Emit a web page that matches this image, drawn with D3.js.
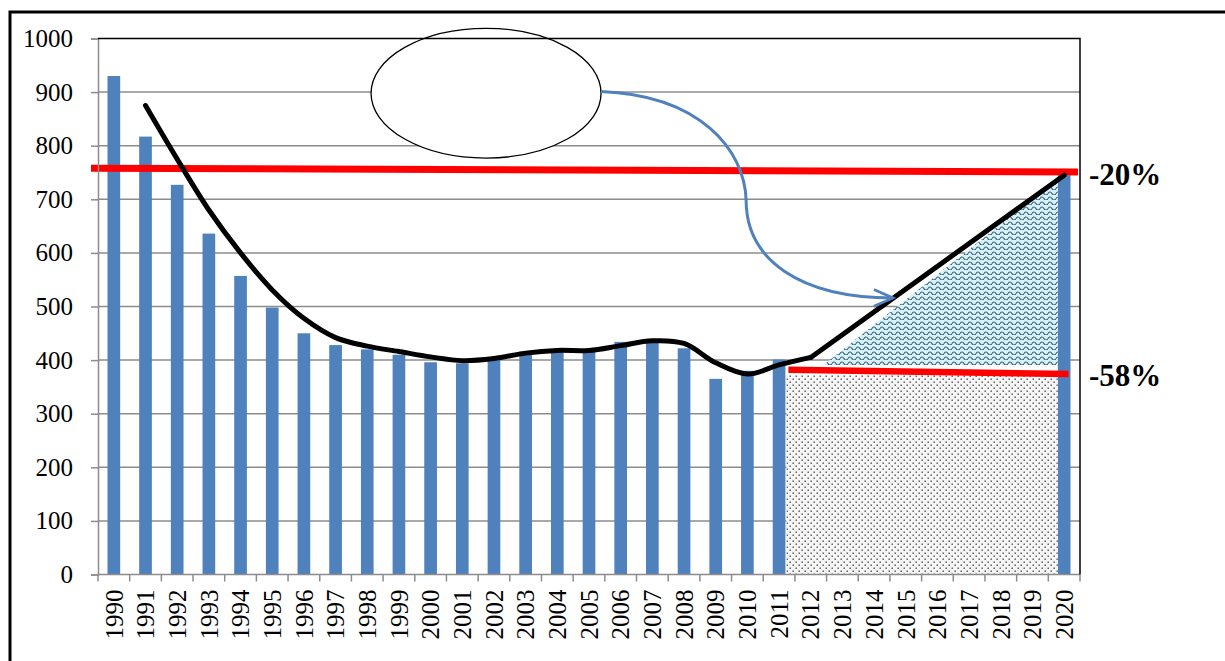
<!DOCTYPE html>
<html>
<head>
<meta charset="utf-8">
<script src="https://cdn.jsdelivr.net/npm/d3@7"></script>
<style>
  body { margin: 0; background: #fff; }
  text { font-family: "Liberation Serif", "Times New Roman", serif; }
</style>
</head>
<body>
<div id="chart-area"></div>
<script>
// categories
var years = ["1990", "1991", "1992", "1993", "1994", "1995", "1996", "1997", "1998", "1999",
  "2000", "2001", "2002", "2003", "2004", "2005", "2006", "2007", "2008", "2009",
  "2010", "2011", "2012", "2013", "2014", "2015", "2016", "2017", "2018", "2019", "2020"]

// blue columns
var barValues = [930, 817, 727, 636, 557, 498, 450, 428, 420, 410,
  396, 394, 400, 416, 418, 415, 434, 432, 422, 365,
  380, 401, null, null, null, null, null, null, null, null, 745]

// black smoothed trend, then straight path to the 2020 target
var lineValues = [null, 875, 775, 680, 600, 531, 478, 442, 426, 416,
  406, 399, 403, 413, 418, 418, 427, 436, 431, 395,
  374, 391, 405, null, null, null, null, null, null, null, 745]

var yTicks = [0, 100, 200, 300, 400, 500, 600, 700, 800, 900, 1000]

// red target levels (value at left end, value at right end)
var targetHigh = [758, 751]
var targetLow = [382, 374]
var targetLabels = ["-20%", "-58%"]

// shaded areas, in value units
var dottedTop = 372
var waveBase = 391
var waveTop = 738

// annotation (ellipse and arrow) in category-index / value units
var ellipseBox = [8.12, 15.38, 1019, 777]   // left idx, right idx, top value, bottom value
var arrowPoints = [[15.38, 901], [18.5, 894], [19.92, 792], [19.96, 698],
  [19.96, 587], [21.66, 516], [24.6, 516]]

var svg = d3.select("#chart-area").append("svg")
  .attr("width", 1225)
  .attr("height", 661)
  .style("display", "block")
  .style("background", "#fff")

var x = d3.scaleBand()
  .domain(years)
  .range([98, 1080])
  .paddingInner(0.6)
  .paddingOuter(0.3)

var y = d3.scaleLinear()
  .domain([0, 1000])
  .range([574.5, 38.5])

var step = x.step()
var bw = x.bandwidth()
function cx(i) { return x(years[i]) + bw / 2 }
var xi = d3.scaleLinear().domain([0, years.length - 1]).range([cx(0), cx(years.length - 1)])

// patterns
var defs = svg.append("defs")
var dots = defs.append("pattern")
  .attr("id", "dots").attr("patternUnits", "userSpaceOnUse")
  .attr("width", 6).attr("height", 6)
dots.append("rect").attr("width", 6).attr("height", 6).attr("fill", "#f6f6f6")
dots.append("rect").attr("x", 0.5).attr("y", 0.5).attr("width", 1.4).attr("height", 1.4).attr("fill", "#4a4a4a")
dots.append("rect").attr("x", 3.5).attr("y", 3.5).attr("width", 1.4).attr("height", 1.4).attr("fill", "#4a4a4a")

var waves = defs.append("pattern")
  .attr("id", "waves").attr("patternUnits", "userSpaceOnUse")
  .attr("width", 8).attr("height", 5)
waves.append("rect").attr("width", 8).attr("height", 5).attr("fill", "#d6f1fa")
waves.append("path").attr("d", "M0,3.6 Q2,0.4 4,3.6 T8,3.6")
  .attr("fill", "none").attr("stroke", "#3f6675").attr("stroke-width", 1.2)

defs.append("marker")
  .attr("id", "arrowhead")
  .attr("viewBox", "0 0 10 10")
  .attr("refX", 9).attr("refY", 5)
  .attr("markerWidth", 8).attr("markerHeight", 8)
  .attr("markerUnits", "strokeWidth")
  .attr("orient", "auto")
  .append("path")
  .attr("d", "M1,1.5 L9,5 L1,8.5")
  .attr("fill", "none")
  .attr("stroke", "#4f81bd")
  .attr("stroke-width", 1.1)

// gridlines
svg.append("g").selectAll("line")
  .data(yTicks.filter(function (d) { return d > 0 && d < 1000 }))
  .enter().append("line")
  .attr("x1", 98).attr("x2", 1080)
  .attr("y1", function (d) { return y(d) })
  .attr("y2", function (d) { return y(d) })
  .attr("stroke", "#8c8c8c")
  .attr("stroke-width", 1.5)

// bars
svg.append("g").selectAll("rect")
  .data(years.map(function (d, i) { return { year: d, v: barValues[i] } })
    .filter(function (d) { return d.v != null }))
  .enter().append("rect")
  .attr("x", function (d) { return x(d.year) })
  .attr("y", function (d) { return y(d.v) })
  .attr("width", bw)
  .attr("height", function (d) { return y(0) - y(d.v) })
  .attr("fill", "#4f81bd")

// dotted block between 2011 and 2020 bars
svg.append("rect")
  .attr("x", x("2011") + bw + 1)
  .attr("y", y(dottedTop))
  .attr("width", x("2020") - (x("2011") + bw + 1))
  .attr("height", y(0) - y(dottedTop))
  .attr("fill", "url(#dots)")

// wavy triangle
svg.append("path")
  .attr("d", d3.line()([
    [xi(22.4), y(waveBase)],
    [x("2020"), y(waveTop)],
    [x("2020"), y(waveBase)]
  ]) + "Z")
  .attr("fill", "url(#waves)")

// red target lines
svg.append("line")
  .attr("x1", 91).attr("x2", 1078)
  .attr("y1", y(targetHigh[0])).attr("y2", y(targetHigh[1]))
  .attr("stroke", "#ff0000").attr("stroke-width", 7)

svg.append("line")
  .attr("x1", x("2011") + bw + 3).attr("x2", x("2020") + bw - 2)
  .attr("y1", y(targetLow[0])).attr("y2", y(targetLow[1]))
  .attr("stroke", "#ff0000").attr("stroke-width", 6.5)

// black trend line
var pts = lineValues.map(function (v, i) { return [i, v] })
  .filter(function (d) { return d[1] != null })
var smoothPts = pts.filter(function (d) { return d[0] <= 22 })
var straightPts = pts.filter(function (d) { return d[0] >= 22 })

var smooth = d3.line()
  .x(function (d) { return cx(d[0]) })
  .y(function (d) { return y(d[1]) })
  .curve(d3.curveCatmullRom.alpha(0.5))
var straight = d3.line()
  .x(function (d) { return cx(d[0]) })
  .y(function (d) { return y(d[1]) })

svg.append("path").attr("d", smooth(smoothPts))
  .attr("fill", "none").attr("stroke", "#000").attr("stroke-width", 5)
  .attr("stroke-linecap", "round").attr("stroke-linejoin", "round")
svg.append("path").attr("d", straight(straightPts))
  .attr("fill", "none").attr("stroke", "#000").attr("stroke-width", 5)
  .attr("stroke-linecap", "round").attr("stroke-linejoin", "round")

// ellipse callout
var ex0 = xi(ellipseBox[0]), ex1 = xi(ellipseBox[1])
var ey0 = y(ellipseBox[2]), ey1 = y(ellipseBox[3])
svg.append("ellipse")
  .attr("cx", (ex0 + ex1) / 2).attr("cy", (ey0 + ey1) / 2)
  .attr("rx", (ex1 - ex0) / 2).attr("ry", (ey1 - ey0) / 2)
  .attr("fill", "#fff").attr("stroke", "#000").attr("stroke-width", 1.3)

// curved arrow
var ap = arrowPoints.map(function (p) { return [xi(p[0]), y(p[1])] })
var path = d3.path()
path.moveTo(ap[0][0], ap[0][1])
path.bezierCurveTo(ap[1][0], ap[1][1], ap[2][0], ap[2][1], ap[3][0], ap[3][1])
path.bezierCurveTo(ap[4][0], ap[4][1], ap[5][0], ap[5][1], ap[6][0], ap[6][1])
svg.append("path")
  .attr("d", path.toString())
  .attr("fill", "none")
  .attr("stroke", "#4f81bd")
  .attr("stroke-width", 3)
  .attr("marker-end", "url(#arrowhead)")

// y axis
var yAxis = d3.axisLeft(y).tickValues(yTicks).tickSize(7).tickPadding(18)
  .tickFormat(d3.format("d"))
var gy = svg.append("g").attr("transform", "translate(98,0)").call(yAxis)
  .attr("font-family", null).attr("font-size", null)
gy.select(".domain").attr("stroke", "#8c8c8c").attr("stroke-width", 1.5)
gy.selectAll(".tick line").attr("stroke", "#8c8c8c").attr("stroke-width", 1.5)
gy.selectAll(".tick text")
  .attr("font-size", 25)
  .attr("fill", "#000")

// x axis: ticks on category boundaries
var gx = svg.append("g")
gx.append("line")
  .attr("x1", 98).attr("x2", 1080)
  .attr("y1", y(0)).attr("y2", y(0))
  .attr("stroke", "#8c8c8c").attr("stroke-width", 1.5)
gx.selectAll("line.tk")
  .data(years.concat(["end"]))
  .enter().append("line")
  .attr("class", "tk")
  .attr("x1", function (d, i) { return 98 + i * step })
  .attr("x2", function (d, i) { return 98 + i * step })
  .attr("y1", y(0)).attr("y2", y(0) + 7)
  .attr("stroke", "#8c8c8c").attr("stroke-width", 1.5)
gx.selectAll("text")
  .data(years)
  .enter().append("text")
  .attr("transform", function (d) {
    return "translate(" + (x(d) + bw / 2) + "," + (y(0) + 15) + ") rotate(-90)"
  })
  .attr("text-anchor", "end")
  .attr("dy", "0.35em")
  .attr("font-size", 25)
  .text(function (d) { return d })

// plot frame top/right
svg.append("path")
  .attr("d", d3.line()([[98, y(1000)], [1080, y(1000)], [1080, y(0)]]))
  .attr("fill", "none").attr("stroke", "#000").attr("stroke-width", 1.5)

// outer frame
svg.append("rect")
  .attr("x", 10).attr("y", 12)
  .attr("width", 1400).attr("height", 800)
  .attr("fill", "none").attr("stroke", "#000").attr("stroke-width", 3)

// target labels
svg.selectAll("text.target")
  .data(targetLabels)
  .enter().append("text")
  .attr("class", "target")
  .attr("x", 1089)
  .attr("y", function (d, i) { return i === 0 ? y(targetHigh[1]) + 13 : y(targetLow[1]) + 12 })
  .attr("font-size", 31)
  .attr("font-weight", "bold")
  .text(function (d) { return d })
</script>
</body>
</html>
